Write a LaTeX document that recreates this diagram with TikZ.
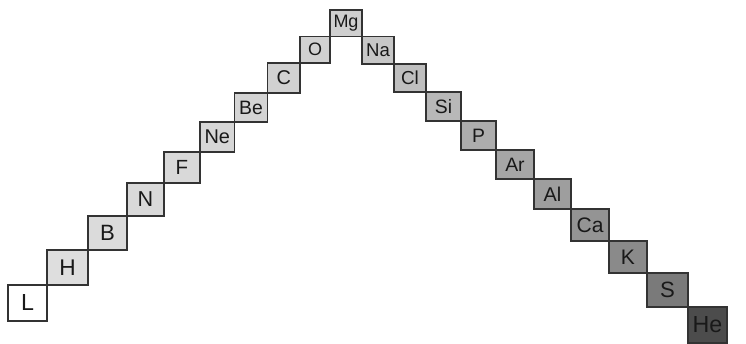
\documentclass[tikz,border=0pt]{standalone}
\usepackage{fontspec}
\setmainfont{Liberation Sans}
\tikzset{
  elem/.style={draw=black!80, line width=1.1pt, inner sep=0pt, text=black!90}
}
\newcommand\elbox[7]{%
  \pgfmathsetmacro\elfs{18+((#5-#3)-26.5)*0.55}%
  \node[elem, fill=#6, minimum width={(#4-#2)*1pt}, minimum height={(#5-#3)*1pt},
    font=\fontsize{\elfs}{\elfs}\selectfont]
    (#1) at ({(#2+#4)/2},{(#3+#5)/2}) {#7};}
\begin{document}
\begin{tikzpicture}[x=1pt, y=-1pt]
\useasboundingbox (0,0) rectangle (746,344);
% left flank
\elbox{eL}{8}{285}{47}{321}{white}{L}
\elbox{eH}{47}{250}{88}{285}{black!13}{H}
\elbox{eB}{88}{216}{127}{250}{black!14}{B}
\elbox{eN}{127}{183}{164}{216}{black!15}{N}
\elbox{eF}{164}{152}{200}{183}{black!15}{F}
\elbox{eNe}{200}{122}{234.5}{152}{black!16}{Ne}
\elbox{eBe}{234.5}{93}{267.5}{122}{black!17}{Be}
\elbox{eC}{267.5}{63}{300}{93}{black!18}{C}
\elbox{eO}{300}{36.5}{330}{63}{black!18}{O}
\elbox{eMg}{330}{10}{362}{36.5}{black!19}{Mg}
% right flank
\elbox{eNa}{362}{36.5}{394}{64}{black!22}{Na}
\elbox{eCl}{394}{64}{426}{92}{black!25}{Cl}
\elbox{eSi}{426}{92}{461}{121}{black!28}{Si}
\elbox{eP}{461}{121}{496}{150}{black!32}{P}
\elbox{eAr}{496}{150}{534}{179}{black!35}{Ar}
\elbox{eAl}{534}{179}{571}{209}{black!38}{Al}
\elbox{eCa}{571}{209}{609}{241}{black!42}{Ca}
\elbox{eK}{609}{241}{647}{273}{black!46}{K}
\elbox{eS}{647}{273}{688}{307}{black!52}{S}
\elbox{eHe}{688}{307}{727}{343}{black!70}{He}
\end{tikzpicture}
\end{document}
